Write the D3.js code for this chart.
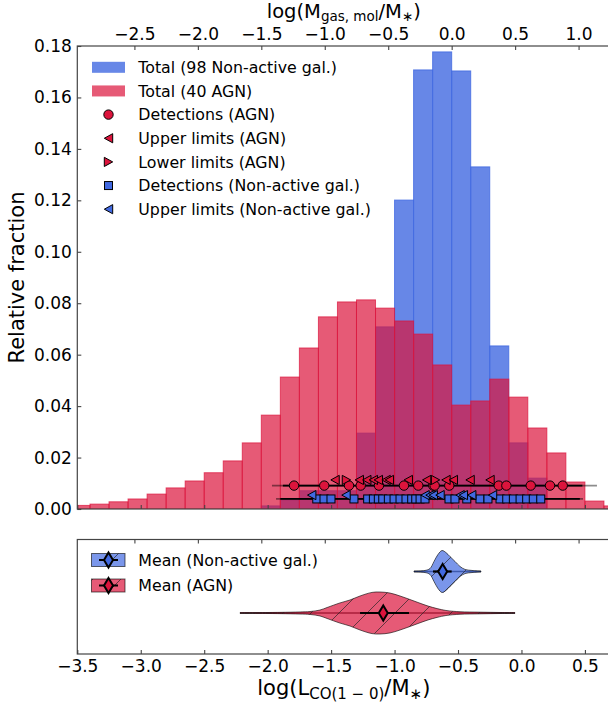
<!DOCTYPE html>
<html>
<head>
<meta charset="utf-8">
<script src="https://cdn.jsdelivr.net/npm/d3@7"></script>
<style>
  body { margin: 0; background: #fff; }
  svg { display: block; }
  text { font-family: "DejaVu Sans", sans-serif; fill: #000; }
</style>
</head>
<body>
<svg id="chart" width="608" height="708"></svg>
<script>
/****************************************************************
    Data
/****************************************************************/
const binEdges = [-3.55, -3.4, -3.25, -3.1, -2.95, -2.8, -2.65, -2.5, -2.35, -2.2, -2.05, -1.9,
  -1.75, -1.6, -1.45, -1.3, -1.15, -1.0, -0.85, -0.7, -0.55, -0.4, -0.25, -0.1, 0.05, 0.2,
  0.35, 0.5, 0.65, 0.8]
const agnFrac = [0.0014, 0.0019, 0.0028, 0.0039, 0.0058, 0.0082, 0.0109, 0.0141, 0.0187, 0.0257,
  0.0365, 0.0513, 0.0626, 0.0747, 0.0805, 0.0813, 0.0781, 0.0731, 0.068, 0.056, 0.0404, 0.042,
  0.0505, 0.0435, 0.0315, 0.0218, 0.0105, 0.0031, 0.0012]
const nonFrac = [0, 0, 0, 0, 0, 0, 0, 0, 0, 0,
  0.0012, 0.0035, 0.0071, 0.0071, 0.0071, 0.0295, 0.0708, 0.1201, 0.1707, 0.1777, 0.1703, 0.133,
  0.0634, 0.0257, 0.012, 0, 0, 0, 0]

// individual galaxies, log(L_CO/M*)
const agnDet = [-1.792, -1.554, -1.359, -1.267, -1.123, -0.926, -0.813, -0.695, -0.684, -0.569,
  -0.179, -0.119, 0.073, 0.225, 0.325]
const agnUpper = [-1.469, -1.278, -1.219, -1.167, -1.128, -1.067, -1.041, -0.892, -0.747, -0.595,
  -0.537, -0.405, -0.248]
const agnLower = [-1.379, -0.677]
const nonDet = [-1.613, -1.556, -1.501, -1.32, -1.212, -1.167, -1.128, -1.093, -1.049, -1.004,
  -0.957, -0.91, -0.865, -0.833, -0.799, -0.76, -0.571, -0.524, -0.431, -0.327, -0.264, -0.169,
  -0.116, -0.064, -0.011, 0.041, 0.093, 0.152]
const nonUpper = [-1.653, -1.383, -0.76, -0.721, -0.695, -0.642, -0.484, -0.458, -0.392, -0.228]
const agnSpan = [-1.966, -1.88, 0.48, 0.595] // outer start, inner start, inner end, outer end
const nonSpan = [-1.934, -1.9, 0.46, 0.485]

// violins of the mean (x, relative half width)
const violinNonX = [-0.847, -0.76, -0.721, -0.689, -0.658, -0.626, -0.595, -0.563, -0.524, -0.484,
  -0.445, -0.39, -0.319]
const violinNonW = [0.02, 0.05, 0.14, 0.48, 0.81, 1.0, 0.9, 0.71, 0.48, 0.24, 0.1, 0.05, 0.02]
const violinAgnX = [-2.218, -1.903, -1.745, -1.666, -1.588, -1.532, -1.43, -1.351, -1.272, -1.178,
  -1.115, -1.036, -0.957, -0.878, -0.815, -0.736, -0.665, -0.595, -0.484, -0.327, -0.169, -0.051]
const violinAgnW = [0.014, 0.03, 0.05, 0.07, 0.14, 0.26, 0.48, 0.62, 0.81, 0.98, 1.0, 0.95, 0.81,
  0.64, 0.5, 0.33, 0.21, 0.12, 0.06, 0.04, 0.024, 0.014]
const groups = ['Non-active gal.', 'AGN']
const meanVal = [-0.621, -1.089]
const meanLo = [-0.697, -1.272]
const meanHi = [-0.55, -0.886]

const xTicks = [-3.5, -3.0, -2.5, -2.0, -1.5, -1.0, -0.5, 0.0, 0.5]
const topTicks = [-2.5, -2.0, -1.5, -1.0, -0.5, 0.0, 0.5, 1.0]
const yTicks = [0, 0.02, 0.04, 0.06, 0.08, 0.1, 0.12, 0.14, 0.16, 0.18]
const gasOffset = 0.55 // log(M_gas,mol/M*) - log(L_CO/M*)

/****************************************************************
    Layout and styles
/****************************************************************/
const settings = {
  left: 77.3,
  right: 610.3,
  mainTop: 46,
  mainBottom: 509,
  lowTop: 539.5,
  lowBottom: 654,
  blue: 'rgb(65,105,225)',
  red: 'rgb(220,20,60)',
  tickFont: 17,
  labelFont: 21,
  legendFont: 15.8,
  spine: '#444'
}

const svg = d3.select('#chart')
const defs = svg.append('defs')

defs.append('clipPath').attr('id', 'clipMain').append('rect')
  .attr('x', settings.left).attr('y', settings.mainTop)
  .attr('width', settings.right - settings.left).attr('height', settings.mainBottom - settings.mainTop)

const hatch = defs.append('pattern').attr('id', 'hatch')
  .attr('patternUnits', 'userSpaceOnUse').attr('width', 28).attr('height', 28)
hatch.append('path')
  .attr('d', 'M0,28 L28,0 M-14,14 L14,-14 M14,42 L42,14')
  .attr('stroke', '#222').attr('stroke-width', 0.9).attr('stroke-opacity', 0.75)

const x = d3.scaleLinear().domain([-3.5, 0.7]).range([settings.left, settings.right])
const xTop = d3.scaleLinear().domain([-3.5 + gasOffset, 0.7 + gasOffset]).range([settings.left, settings.right])
const y = d3.scaleLinear().domain([0, 0.18]).range([settings.mainBottom, settings.mainTop])
const yLow = d3.scalePoint().domain(groups).range([571.5, 613])
const halfW = d3.scaleLinear().domain([0, 1]).range([0, 21])

/****************************************************************
    Histograms
/****************************************************************/
function binsOf(values) {
  return values.map((v, i) => ({ x0: binEdges[i], x1: binEdges[i + 1], v: v })).filter(d => d.v > 0)
}

const plot = svg.append('g').attr('clip-path', 'url(#clipMain)')

function drawHist(values, color, alpha) {
  plot.append('g').selectAll('rect').data(binsOf(values)).join('rect')
    .attr('x', d => x(d.x0))
    .attr('y', d => y(d.v))
    .attr('width', d => x(d.x1) - x(d.x0))
    .attr('height', d => y(0) - y(d.v))
    .attr('fill', color).attr('fill-opacity', alpha)
    .attr('stroke', color).attr('stroke-opacity', alpha).attr('stroke-width', 1)
}
drawHist(nonFrac, settings.blue, 0.8)
drawHist(agnFrac, settings.red, 0.7)

/****************************************************************
    Individual galaxies
/****************************************************************/
const yAgnDet = 0.0091, yAgnLim = 0.0113, yNonDet = 0.0039, yNonLim = 0.0054

function spanLine(span, yv) {
  plot.append('line').attr('x1', x(span[0])).attr('x2', x(span[3]))
    .attr('y1', y(yv)).attr('y2', y(yv))
    .attr('stroke', '#000').attr('stroke-opacity', 0.45).attr('stroke-width', 1.8)
  plot.append('line').attr('x1', x(span[1])).attr('x2', x(span[2]))
    .attr('y1', y(yv)).attr('y2', y(yv))
    .attr('stroke', '#000').attr('stroke-width', 1.8)
}
spanLine(agnSpan, yAgnDet)
spanLine(nonSpan, yNonDet)

const triLeft = 'M-4.2,0 L4.2,-4.6 L4.2,4.6 Z'
const triRight = 'M4.2,0 L-4.2,-4.6 L-4.2,4.6 Z'

function drawPaths(values, yv, d, color) {
  plot.append('g').selectAll('path').data(values).join('path')
    .attr('transform', v => `translate(${x(v)},${y(yv)})`)
    .attr('d', d).attr('fill', color).attr('stroke', '#000').attr('stroke-width', 1)
}

plot.append('g').selectAll('rect').data(nonDet).join('rect')
  .attr('x', v => x(v) - 4).attr('y', y(yNonDet) - 4).attr('width', 8).attr('height', 8)
  .attr('fill', settings.blue).attr('stroke', '#000').attr('stroke-width', 1)
drawPaths(nonUpper, yNonLim, triLeft, settings.blue)

plot.append('g').selectAll('circle').data(agnDet).join('circle')
  .attr('cx', v => x(v)).attr('cy', y(yAgnDet)).attr('r', 4.7)
  .attr('fill', settings.red).attr('stroke', '#000').attr('stroke-width', 1)
drawPaths(agnUpper, yAgnLim, triLeft, settings.red)
drawPaths(agnLower, yAgnLim, triRight, settings.red)

/****************************************************************
    Frames and axes of the main panel
/****************************************************************/
function frame(top, bottom) {
  svg.append('rect').attr('x', settings.left).attr('y', top)
    .attr('width', settings.right - settings.left).attr('height', bottom - top)
    .attr('fill', 'none').attr('stroke', settings.spine).attr('stroke-width', 1.2)
}

function styleAxis(g) {
  g.select('.domain').remove()
  g.selectAll('.tick line').attr('stroke', settings.spine).attr('stroke-width', 1.1)
  g.selectAll('.tick text').attr('font-size', settings.tickFont).attr('font-family', '"DejaVu Sans", sans-serif')
}

svg.append('g').attr('transform', `translate(0,${settings.mainBottom})`)
  .call(d3.axisBottom(x).tickValues(xTicks).tickSize(-4).tickFormat(''))
  .call(styleAxis)
svg.append('g').attr('transform', `translate(0,${settings.mainTop})`)
  .call(d3.axisTop(xTop).tickValues(topTicks).tickSize(-4).tickPadding(6.5).tickFormat(d3.format('.1f')))
  .call(styleAxis)
svg.append('g').attr('transform', `translate(${settings.left},0)`)
  .call(d3.axisLeft(y).tickValues(yTicks).tickSize(-4).tickPadding(5.5).tickFormat(d3.format('.2f')))
  .call(styleAxis)
frame(settings.mainTop, settings.mainBottom)

svg.append('text').attr('transform', `translate(23.5,${(settings.mainTop + settings.mainBottom) / 2}) rotate(-90)`)
  .attr('text-anchor', 'middle').attr('font-size', settings.labelFont).text('Relative fraction')

const topLabel = svg.append('text').attr('x', (settings.left + settings.right) / 2).attr('y', 18)
  .attr('text-anchor', 'middle').attr('font-size', 19.5)
topLabel.append('tspan').text('log(M')
topLabel.append('tspan').attr('font-size', 13.5).attr('dy', 2.5).text('gas, mol')
topLabel.append('tspan').attr('dy', -2.5).text('/M')
topLabel.append('tspan').attr('font-size', 13.5).attr('dy', 2.5).text('∗')
topLabel.append('tspan').attr('dy', -2.5).text(')')

/****************************************************************
    Legend of the main panel
/****************************************************************/
const legendRows = [
  { label: 'Total (98 Non-active gal.)', kind: 'patch', color: settings.blue, alpha: 0.8 },
  { label: 'Total (40 AGN)', kind: 'patch', color: settings.red, alpha: 0.7 },
  { label: 'Detections (AGN)', kind: 'circle', color: settings.red },
  { label: 'Upper limits (AGN)', kind: triLeft, color: settings.red },
  { label: 'Lower limits (AGN)', kind: triRight, color: settings.red },
  { label: 'Detections (Non-active gal.)', kind: 'square', color: settings.blue },
  { label: 'Upper limits (Non-active gal.)', kind: triLeft, color: settings.blue }
]
const legend = svg.append('g')
legendRows.forEach((row, i) => {
  const cy = 67.3 + i * 23.65
  if (row.kind === 'patch') {
    legend.append('rect').attr('x', 92).attr('y', cy - 5.5).attr('width', 33).attr('height', 11)
      .attr('fill', row.color).attr('fill-opacity', row.alpha)
  } else if (row.kind === 'circle') {
    legend.append('circle').attr('cx', 108.5).attr('cy', cy).attr('r', 4.7)
      .attr('fill', row.color).attr('stroke', '#000')
  } else if (row.kind === 'square') {
    legend.append('rect').attr('x', 104.5).attr('y', cy - 4).attr('width', 8).attr('height', 8)
      .attr('fill', row.color).attr('stroke', '#000')
  } else {
    legend.append('path').attr('transform', `translate(108.5,${cy})`).attr('d', row.kind)
      .attr('fill', row.color).attr('stroke', '#000')
  }
  legend.append('text').attr('x', 138.3).attr('y', cy).attr('dy', '0.36em')
    .attr('font-size', settings.legendFont).text(row.label)
})

/****************************************************************
    Lower panel: violins of the mean
/****************************************************************/
const lowColors = [settings.blue, settings.red]
const violinData = [
  violinNonX.map((v, i) => [v, violinNonW[i]]),
  violinAgnX.map((v, i) => [v, violinAgnW[i]])
]

groups.forEach((gName, i) => {
  const cy = yLow(gName)
  const pts = violinData[i]
  const g = svg.append('g')
  g.append('line').attr('x1', x(pts[0][0])).attr('x2', x(pts[pts.length - 1][0]))
    .attr('y1', cy).attr('y2', cy).attr('stroke', '#333').attr('stroke-width', 1.3)
  const area = d3.area().curve(d3.curveCatmullRom)
    .x(d => x(d[0])).y0(d => cy - halfW(d[1])).y1(d => cy + halfW(d[1]))
  g.append('path').attr('d', area(pts))
    .attr('fill', lowColors[i]).attr('fill-opacity', 0.7)
    .attr('stroke', '#000').attr('stroke-opacity', 0.6).attr('stroke-width', 1)
  g.append('path').attr('d', area(pts)).attr('fill', 'url(#hatch)')
  g.append('line').attr('x1', x(meanLo[i])).attr('x2', x(meanHi[i]))
    .attr('y1', cy).attr('y2', cy).attr('stroke', '#000').attr('stroke-width', 2.2)
  g.append('path').attr('transform', `translate(${x(meanVal[i])},${cy})`)
    .attr('d', 'M0,-7.5 L4.5,0 L0,7.5 L-4.5,0 Z')
    .attr('fill', lowColors[i]).attr('stroke', '#000').attr('stroke-width', 2)
})

svg.append('g').attr('transform', `translate(0,${settings.lowBottom})`)
  .call(d3.axisBottom(x).tickValues(xTicks).tickSize(-4).tickPadding(6).tickFormat(d3.format('.1f')))
  .call(styleAxis)
svg.append('g').attr('transform', `translate(0,${settings.lowTop})`)
  .call(d3.axisTop(xTop).tickValues(topTicks).tickSize(-4).tickFormat(''))
  .call(styleAxis)
frame(settings.lowTop, settings.lowBottom)

const lowLegend = [
  { label: 'Mean (Non-active gal.)', color: settings.blue, cy: 560 },
  { label: 'Mean (AGN)', color: settings.red, cy: 585.5 }
]
lowLegend.forEach(row => {
  const lg = svg.append('g')
  lg.append('rect').attr('x', 91.5).attr('y', row.cy - 6.5).attr('width', 33.5).attr('height', 13)
    .attr('fill', row.color).attr('fill-opacity', 0.7)
    .attr('stroke', '#000').attr('stroke-opacity', 0.6)
  lg.append('rect').attr('x', 91.5).attr('y', row.cy - 6.5).attr('width', 33.5).attr('height', 13)
    .attr('fill', 'url(#hatch)')
  lg.append('line').attr('x1', 99).attr('x2', 118).attr('y1', row.cy).attr('y2', row.cy)
    .attr('stroke', '#000').attr('stroke-width', 2)
  lg.append('path').attr('transform', `translate(108.5,${row.cy})`)
    .attr('d', 'M0,-7.5 L4.5,0 L0,7.5 L-4.5,0 Z')
    .attr('fill', row.color).attr('stroke', '#000').attr('stroke-width', 2)
  lg.append('text').attr('x', 138.3).attr('y', row.cy).attr('dy', '0.36em')
    .attr('font-size', settings.legendFont).text(row.label)
})

const xLabel = svg.append('text').attr('x', (settings.left + settings.right) / 2).attr('y', 695)
  .attr('text-anchor', 'middle').attr('font-size', settings.labelFont)
xLabel.append('tspan').text('log(L')
xLabel.append('tspan').attr('font-size', 15).attr('dy', 4).text('CO(1 − 0)')
xLabel.append('tspan').attr('dy', -4).text('/M')
xLabel.append('tspan').attr('font-size', 15).attr('dy', 4).text('∗')
xLabel.append('tspan').attr('dy', -4).text(')')
</script>
</body>
</html>
